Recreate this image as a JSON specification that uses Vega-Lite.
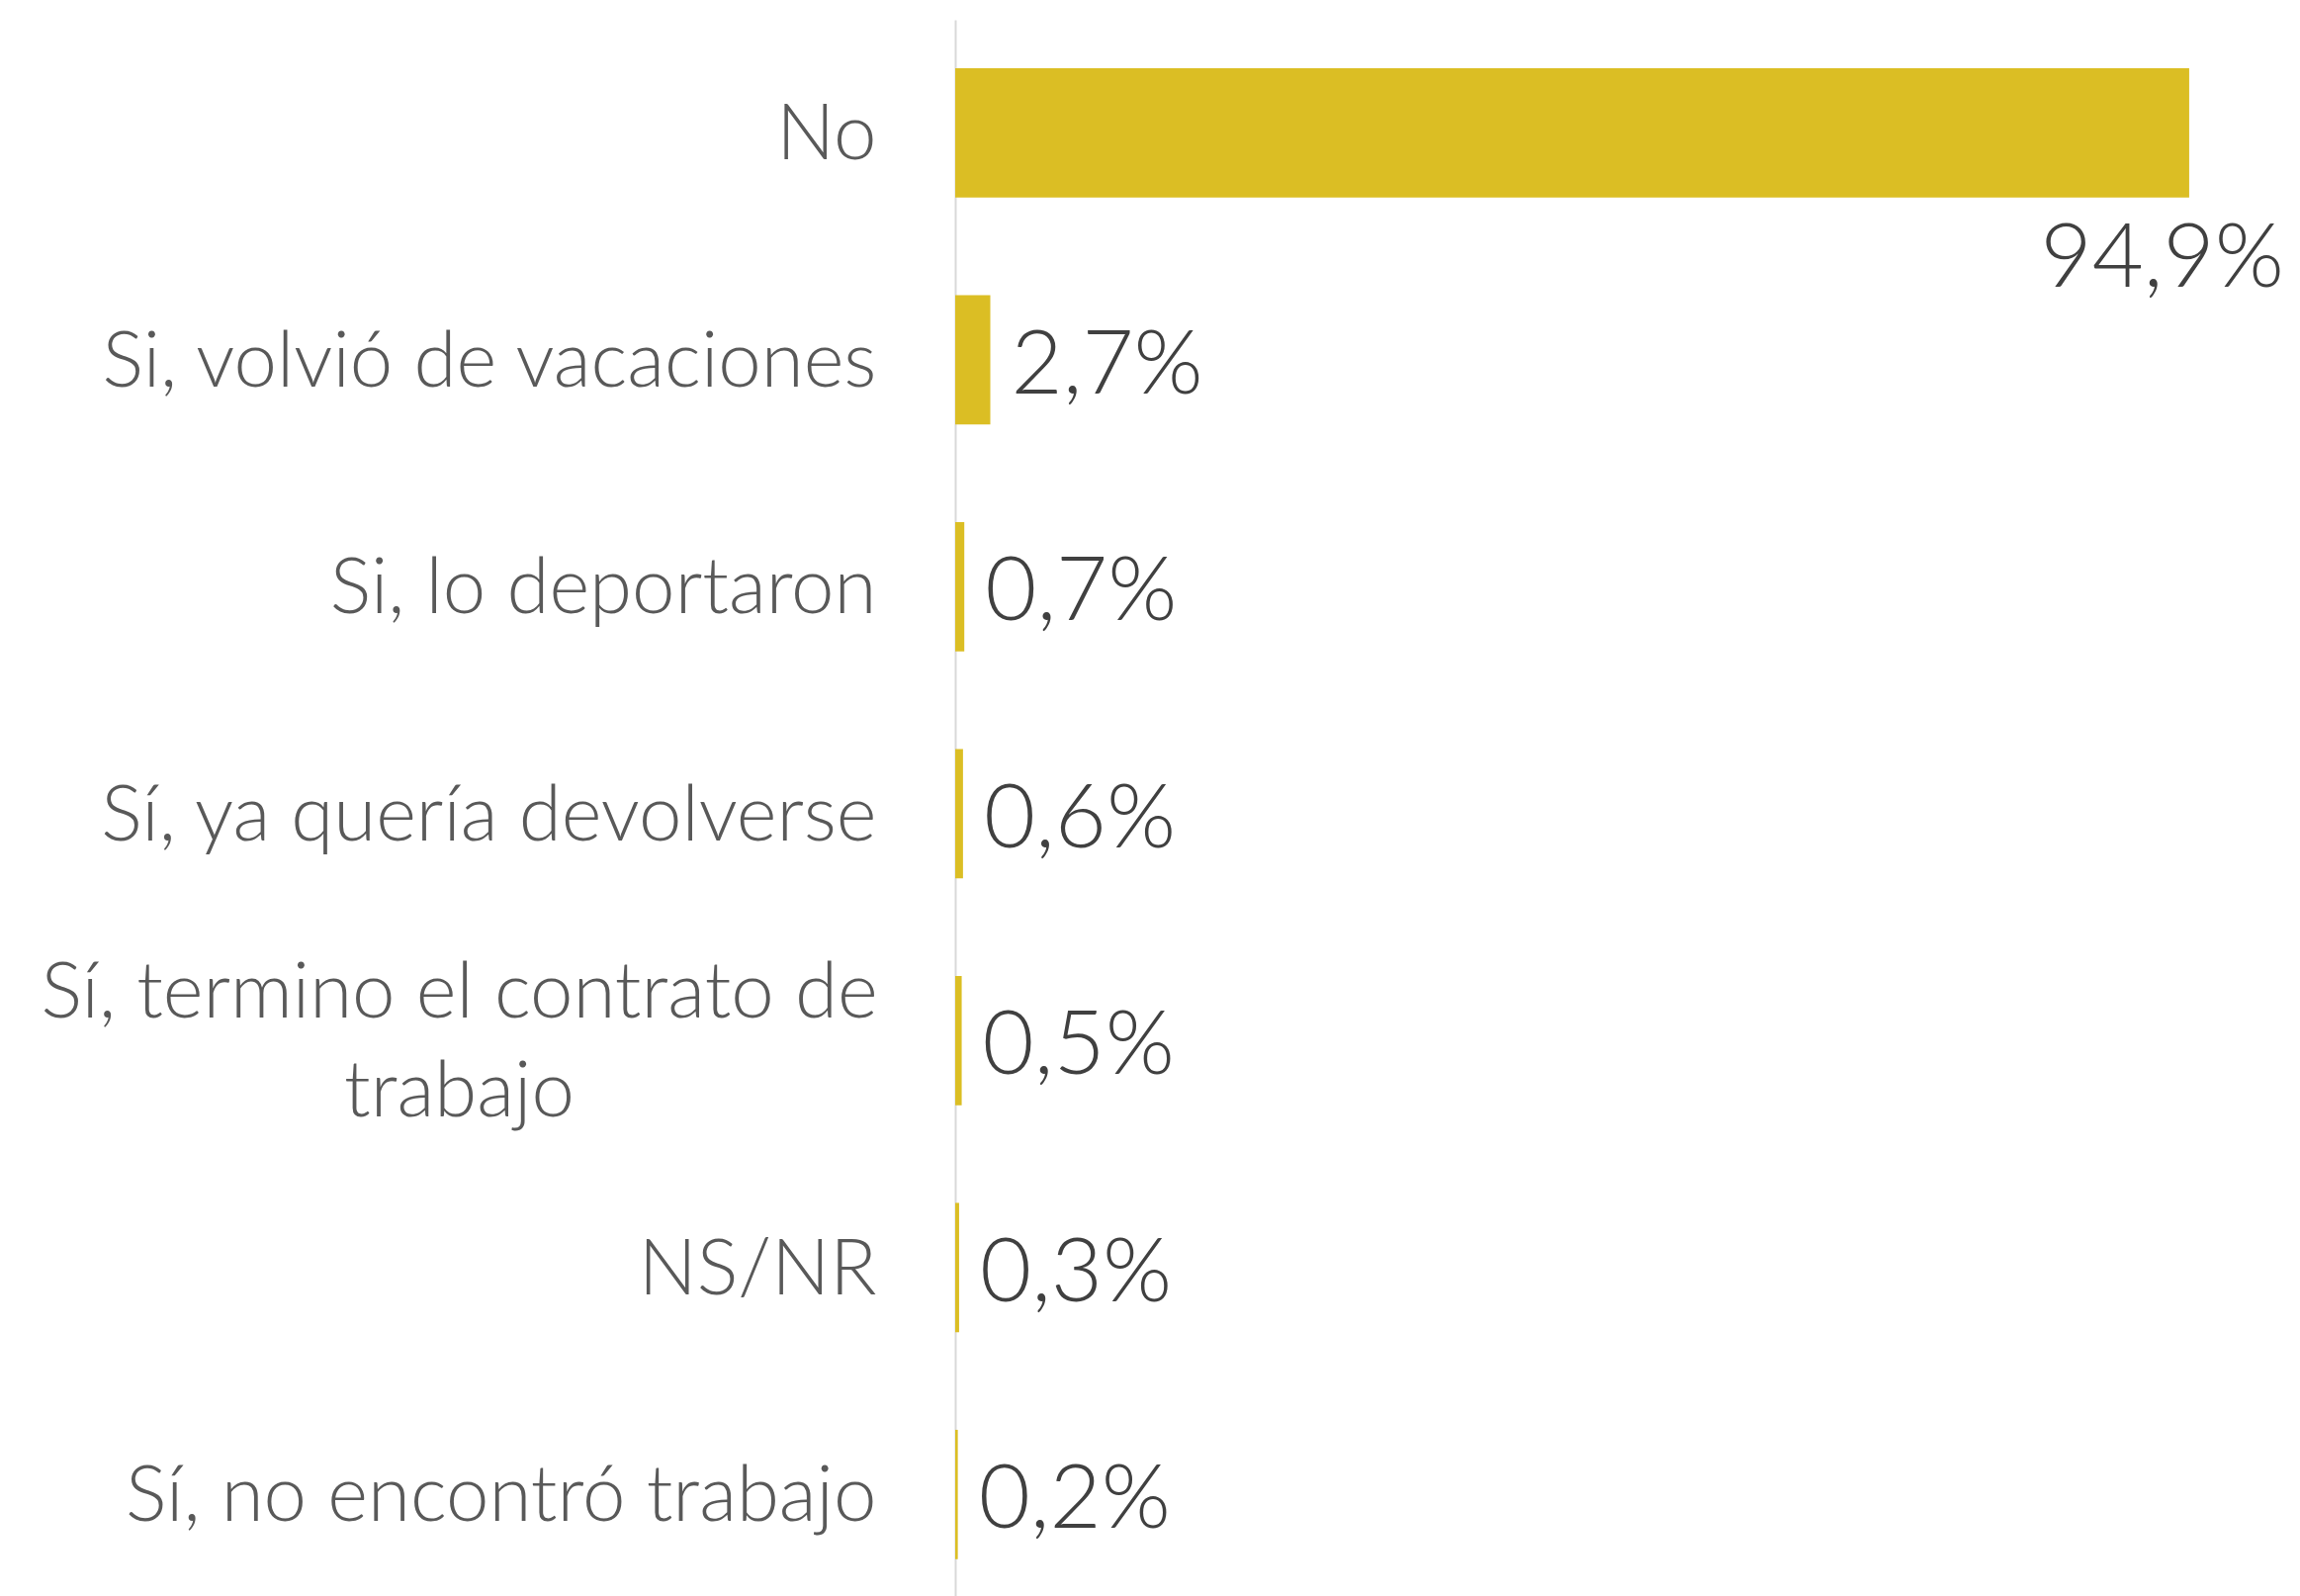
{
  "$schema": "https://vega.github.io/schema/vega-lite/v6.json",
  "autosize": "none",
  "width": 1315,
  "height": 1594,
  "padding": {"left": 966, "top": 20, "right": 45, "bottom": 0},
  "background": "white",
  "config": {"view": {"stroke": null}},
  "data": {
    "values": [
      {"respuesta": "No", "pct": 94.9, "etiqueta": "94,9%"},
      {"respuesta": "Si, volvió de vacaciones", "pct": 2.7, "etiqueta": "2,7%"},
      {"respuesta": "Si, lo deportaron", "pct": 0.7, "etiqueta": "0,7%"},
      {"respuesta": "Sí, ya quería devolverse", "pct": 0.6, "etiqueta": "0,6%"},
      {"respuesta": "Sí, termino el contrato de trabajo", "pct": 0.5, "etiqueta": "0,5%"},
      {"respuesta": "NS/NR", "pct": 0.3, "etiqueta": "0,3%"},
      {"respuesta": "Sí, no encontró trabajo", "pct": 0.2, "etiqueta": "0,2%"}
    ]
  },
  "encoding": {
    "y": {
      "field": "respuesta",
      "type": "nominal",
      "sort": null,
      "scale": {"paddingInner": 0.43, "paddingOuter": 0.1878, "align": 0.568},
      "axis": {
        "title": null,
        "ticks": false,
        "domain": true,
        "domainColor": "#d9d9d9",
        "domainWidth": 2,
        "labelFont": "Lato",
        "labelFontWeight": 300,
        "labelFontSize": 78,
        "labelColor": "#595959",
        "labelLimit": 0,
        "labelLineHeight": 100,
        "labelPadding": {"condition": {"test": "datum.value == 'Sí, termino el contrato de trabajo'", "value": 502}, "value": 80},
        "labelAlign": {"condition": {"test": "datum.value == 'Sí, termino el contrato de trabajo'", "value": "center"}, "value": "right"},
        "labelOffset": {"condition": {"test": "datum.value == 'Sí, termino el contrato de trabajo'", "value": -46}, "value": 4},
        "labelExpr": "datum.value == 'Sí, termino el contrato de trabajo' ? ['Sí, termino el contrato de', 'trabajo'] : datum.value"
      }
    },
    "x": {
      "field": "pct",
      "type": "quantitative",
      "scale": {"domain": [0, 100]},
      "axis": null
    }
  },
  "layer": [
    {"mark": {"type": "bar", "color": "#DBBE24"}},
    {
      "transform": [{"filter": "datum.pct < 50"}],
      "mark": {"type": "text", "align": "left", "baseline": "middle", "dx": 21, "dy": 7, "font": "Lato", "fontWeight": 300, "fontSize": 90, "color": "#404040"},
      "encoding": {"text": {"field": "etiqueta"}}
    },
    {
      "transform": [{"filter": "datum.pct >= 50"}],
      "mark": {"type": "text", "align": "right", "baseline": "middle", "dx": 96, "dy": 129, "font": "Lato", "fontWeight": 300, "fontSize": 90, "color": "#404040"},
      "encoding": {"text": {"field": "etiqueta"}}
    }
  ]
}
